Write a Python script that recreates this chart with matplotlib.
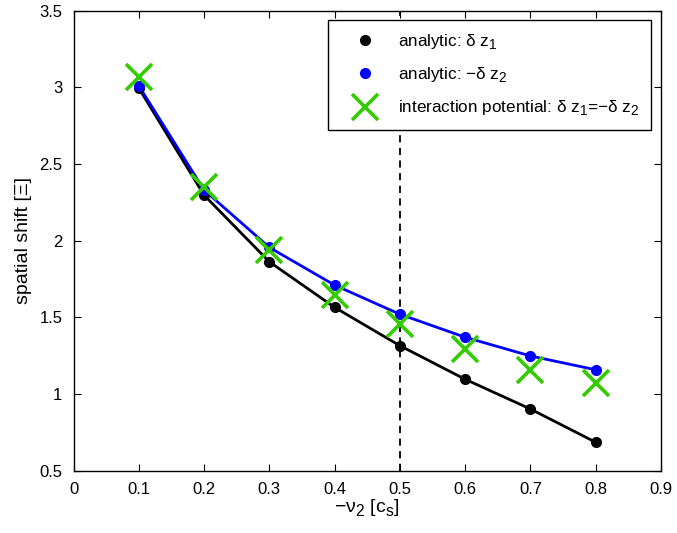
import numpy as np
import matplotlib
matplotlib.use("Agg")
import matplotlib.pyplot as plt
import matplotlib._mathtext as mt

plt.rcParams['font.family'] = ['Liberation Sans', 'DejaVu Sans']
plt.rcParams['mathtext.fontset'] = 'custom'
plt.rcParams['mathtext.rm'] = 'Liberation Sans'
plt.rcParams['mathtext.it'] = 'Liberation Sans'
plt.rcParams['mathtext.bf'] = 'Liberation Sans:bold'

# MATLAB-ish subscripts: a bit bigger and lower than mathtext default
mt.SHRINK_FACTOR = 0.8
mt.FontConstantsBase.sub1 = 0.42

# data
v2 = [0.1, 0.2, 0.3, 0.4, 0.5, 0.6, 0.7, 0.8]
dz1 = [2.995, 2.297, 1.862, 1.565, 1.315, 1.096, 0.902, 0.685]      # analytic dz1
mdz2 = [3.01, 2.33, 1.956, 1.71, 1.52, 1.370, 1.248, 1.158]         # analytic -dz2
pot = [3.065, 2.351, 1.939, 1.645, 1.456, 1.291, 1.156, 1.07]       # interaction potential

green = '#33cc00'

fig = plt.figure(figsize=(6.77, 5.33), dpi=100)
ax = fig.add_axes([0.1086, 0.117, 0.8677, 0.863])

ax.axvline(0.5, color='k', ls=(0, (4, 3)), lw=1.3, zorder=1)

ax.plot(v2, dz1, '-', color='k', lw=2.0, zorder=2)
ax.plot(v2, mdz2, '-', color='#0000ff', lw=2.0, zorder=3)
l1, = ax.plot(v2, dz1, 'o', color='k', ms=7, ls='none', zorder=4,
              label=r'analytic: δ z$_1$')
l2, = ax.plot(v2, mdz2, 'o', color='#0000ff', ms=7, ls='none', zorder=4,
              label=r'analytic: −δ z$_2$')
l3, = ax.plot(v2, pot, 'x', color=green, ms=19, mew=2.6, ls='none', zorder=5,
              label=r'interaction potential: δ z$_1$=−δ z$_2$')

ax.set_xlim(0, 0.9)
ax.set_ylim(0.5, 3.5)
ax.set_xticks(np.arange(0, 0.91, 0.1))
ax.set_xticklabels(['0', '0.1', '0.2', '0.3', '0.4', '0.5', '0.6', '0.7', '0.8', '0.9'])
ax.set_yticks(np.arange(0.5, 3.51, 0.5))
ax.set_yticklabels(['0.5', '1', '1.5', '2', '2.5', '3', '3.5'])
ax.tick_params(direction='in', top=True, right=True, length=5, width=0.8,
               labelsize=12)
ax.tick_params(axis='x', pad=8)
ax.tick_params(axis='y', pad=8)
for s in ax.spines.values():
    s.set_linewidth(1.0)

ax.set_xlabel(r'−ν$_2$ [c$_s$]', fontsize=14, labelpad=1)
ax.set_ylabel('spatial shift [Ξ]', fontsize=14, labelpad=5)

leg = ax.legend(handles=[l1, l2, l3], loc='upper right', bbox_to_anchor=(0.983, 0.979),
                borderaxespad=0, fontsize=12.3, frameon=True, fancybox=False,
                edgecolor='k', framealpha=1, borderpad=0.7, handlelength=2.9,
                handletextpad=0.5, labelspacing=0.78)
leg.get_frame().set_linewidth(1.0)

fig.savefig('out.png', dpi=100)
